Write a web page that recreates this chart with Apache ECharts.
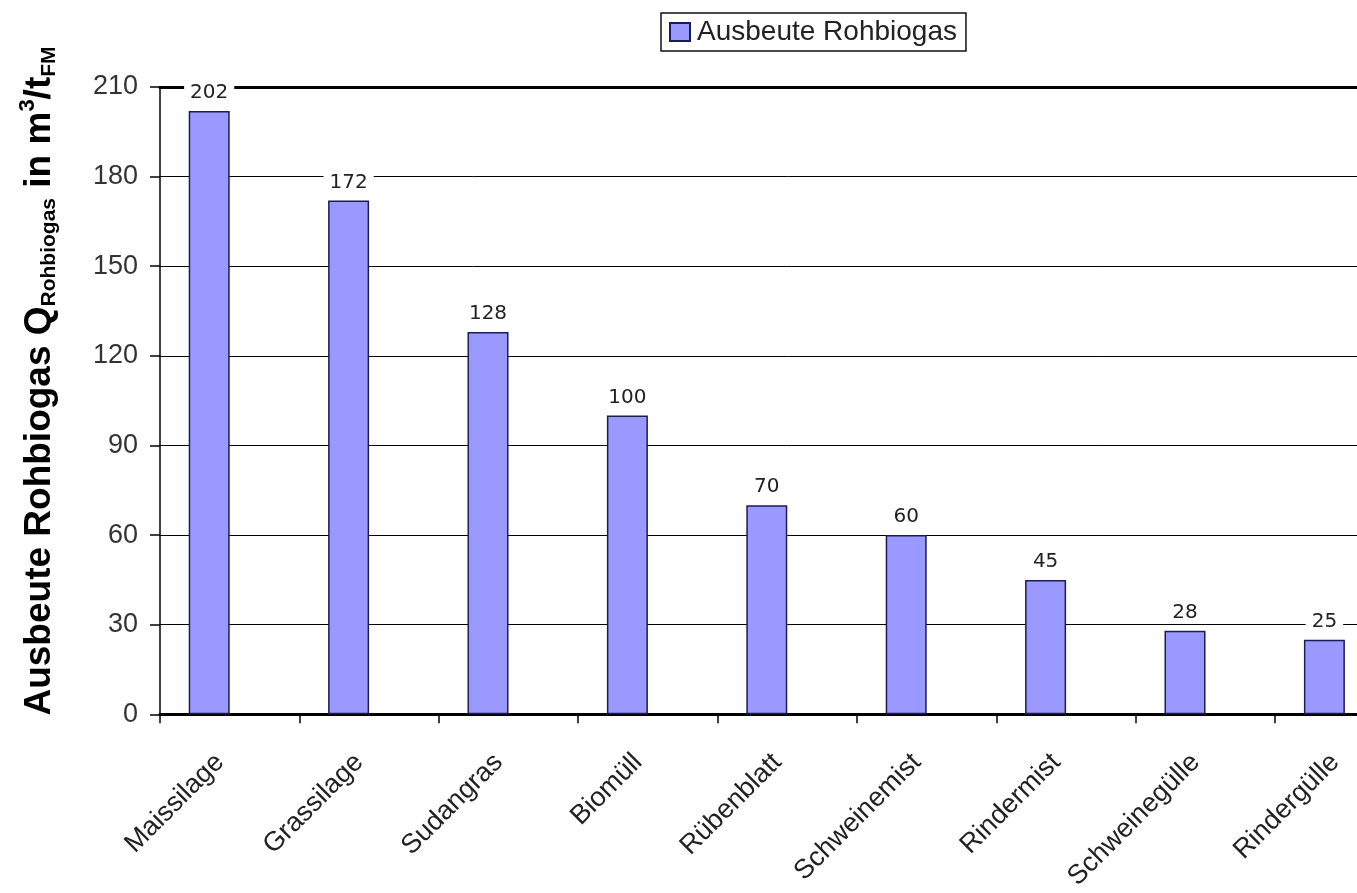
<!DOCTYPE html>
<html>
<head>
<meta charset="utf-8">
<script src="https://cdn.jsdelivr.net/npm/echarts@6/dist/echarts.min.js"></script>
<style>
html,body{margin:0;padding:0;background:#fff;overflow:hidden;width:1357px;height:893px;}
#chart{width:1415px;height:893px;}
</style>
</head>
<body>
<div id="chart"></div>
<script>
const categories = ['Maissilage','Grassilage','Sudangras','Biomüll','Rübenblatt','Schweinemist','Rindermist','Schweinegülle','Rindergülle'];
const yieldValues = [202,172,128,100,70,60,45,28,25];
const seriesName = 'Ausbeute Rohbiogas';
const yTicks = {min:0, max:210, interval:30};

const chart = echarts.init(document.getElementById('chart'));
const font = 'Liberation Sans, Arial, sans-serif';
chart.setOption({
  animation:false,
  backgroundColor:'#fff',
  legend:{
    data:[seriesName],
    left:661, top:13,
    itemWidth:20, itemHeight:18, itemGap:4,
    padding:[5,9,5,8],
    borderColor:'#111', borderWidth:1.5,
    textStyle:{fontFamily:font, fontSize:28, color:'#222', padding:[0,0,0,2]},
    icon:'rect'
  },
  grid:{left:160, top:87, right:0.4, bottom:178, containLabel:false},
  xAxis:[{
    type:'category', data:categories,
    axisLine:{lineStyle:{color:'#000', width:3}},
    axisTick:{show:true, length:9, lineStyle:{color:'#000', width:1.5}, alignWithLabel:false},
    axisLabel:{rotate:45, margin:34, padding:[0,14,0,0], fontFamily:font, fontSize:27, color:'#222', interval:0}
  },{
    type:'category', data:categories, position:'top',
    axisLine:{show:true, lineStyle:{color:'#000', width:3}},
    axisTick:{show:false}, axisLabel:{show:false}
  }],
  yAxis:{
    type:'value', min:yTicks.min, max:yTicks.max, interval:yTicks.interval,
    axisLine:{show:true, lineStyle:{color:'#000', width:1.5}},
    axisTick:{show:true, length:10, lineStyle:{color:'#000', width:1.5}},
    axisLabel:{margin:22, fontFamily:font, fontSize:27, color:'#333'},
    splitLine:{show:true, lineStyle:{color:'#000', width:1}}
  },
  series:[{
    name:seriesName, type:'bar', data:yieldValues,
    barWidth:41, barGap:'0%',
    itemStyle:{color:'#9999ff', borderColor:'#1c1c55', borderWidth:1.5},
    label:{show:true, position:'top', distance:8, fontFamily:'DejaVu Sans, sans-serif', fontSize:20, color:'#222',
      backgroundColor:'#fff', padding:[1,6,0,6]},
    z:5
  },{
    name:'_pad', type:'bar', data:yieldValues.map(()=>null), barWidth:41, legendHoverLink:false
  }],
  graphic:[{
    type:'text', x:40, y:381, rotation:Math.PI/2,
    style:{
      text:'{a|Ausbeute Rohbiogas Q}{s|Rohbiogas}{a| in m}{p|3}{a|/t}{s|FM}',
      align:'center', verticalAlign:'middle',
      rich:{
        a:{fontFamily:font, fontSize:37, fontWeight:'bold', color:'#111', lineHeight:50, verticalAlign:'middle'},
        s:{fontFamily:font, fontSize:21, fontWeight:'bold', color:'#111', lineHeight:21, verticalAlign:'bottom', padding:[0,0,5,0]},
        p:{fontFamily:font, fontSize:22, fontWeight:'bold', color:'#111', lineHeight:22, verticalAlign:'top', padding:[2,0,0,0]}
      }
    }
  }]
});
</script>
</body>
</html>
